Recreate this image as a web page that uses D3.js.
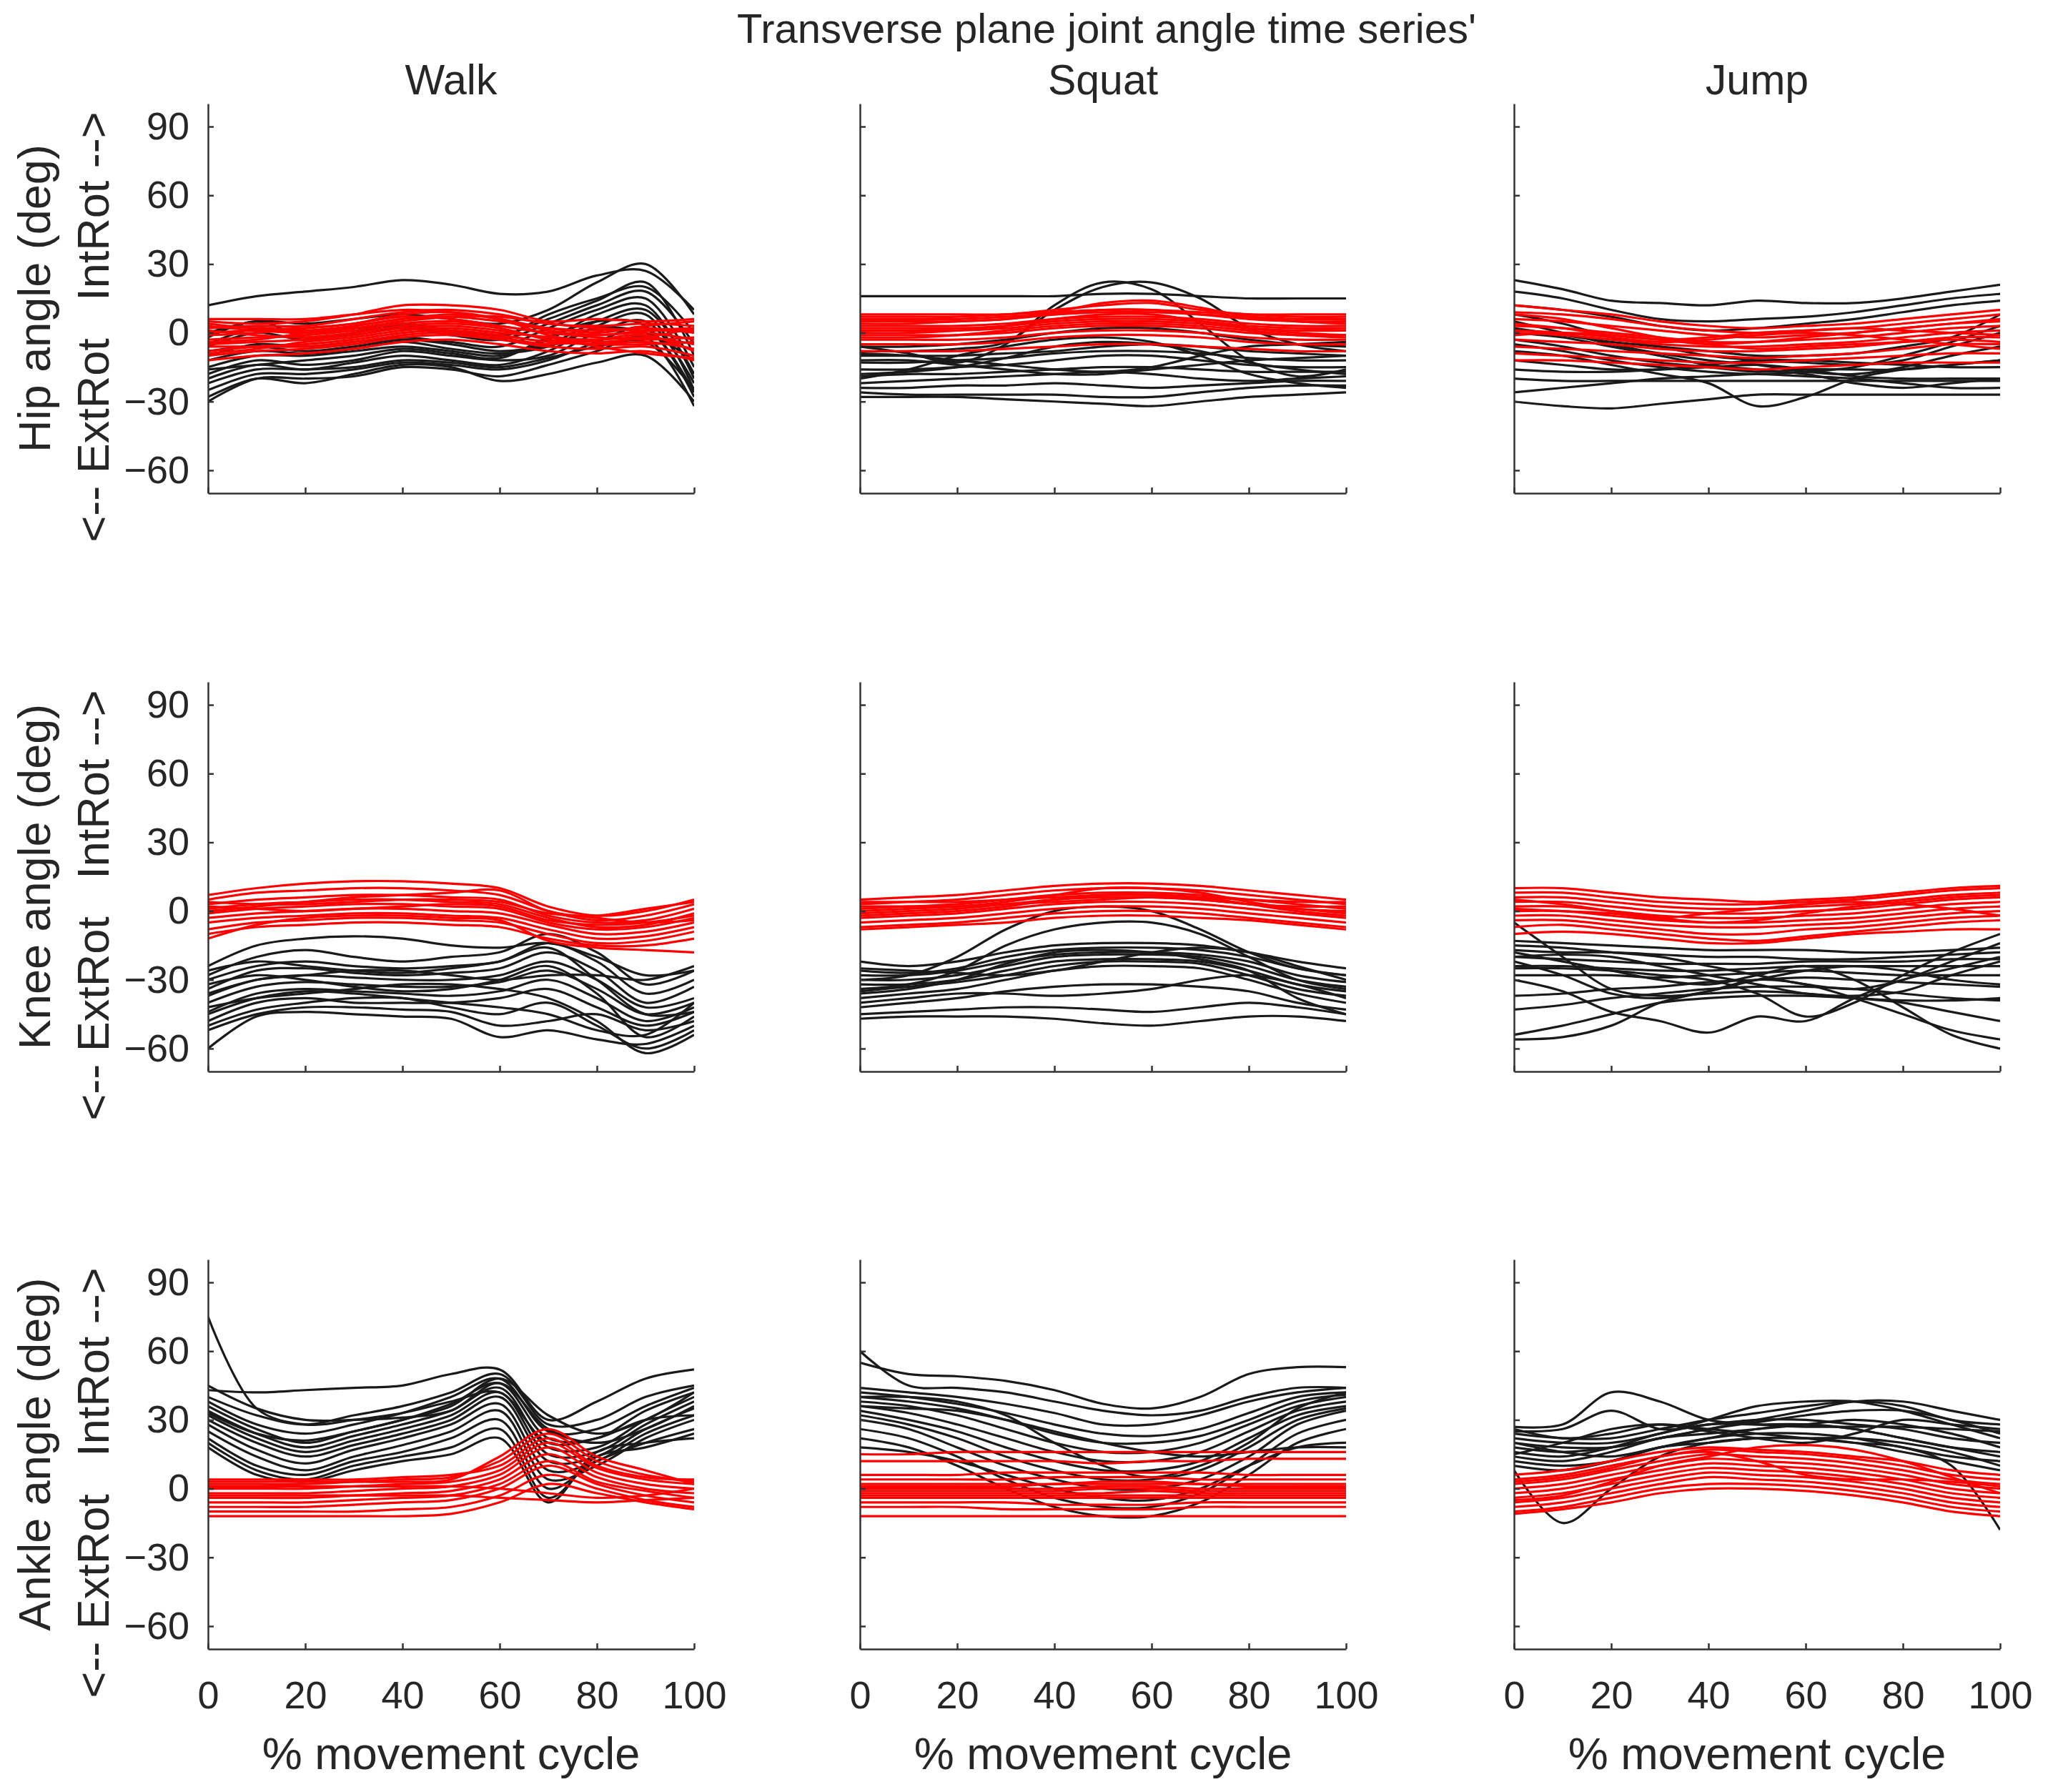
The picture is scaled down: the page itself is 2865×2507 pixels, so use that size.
<!DOCTYPE html>
<html>
<head>
<meta charset="utf-8">
<script src="https://cdn.jsdelivr.net/npm/d3@7"></script>
<style>
  body { margin: 0; background: #fff; }
  svg { display: block; }
</style>
</head>
<body>
<svg id="chart"></svg>
<script>
// sample points along the movement cycle (%)
const percentCycle = [0, 10, 20, 30, 40, 50, 60, 70, 80, 90, 100];

const mainTitle = "Transverse plane joint angle time series'";
const columnTitles = ['Walk', 'Squat', 'Jump'];
const rowLabels = ['Hip angle (deg)', 'Knee angle (deg)', 'Ankle angle (deg)'];
const directionLabel = '<-- ExtRot   IntRot -->';
const xLabel = '% movement cycle';
const yTicks = [-60, -30, 0, 30, 60, 90];
const xTicks = [0, 20, 40, 60, 80, 100];

// ---- Hip ----
const walkHipBlack = [
  [12, 16, 18, 20, 23, 21, 17, 18, 25, 27, 10],
  [0, 5, 4, 6, 8, 6, 4, 10, 22, 30, 8],
  [-5, 2, 0, 2, 3, 0, -2, 8, 15, 20, 0],
  [-10, -5, -6, -4, -2, -4, -6, 2, 10, 15, -15],
  [-15, -10, -10, -8, -6, -8, -10, -3, 8, 12, -20],
  [-20, -14, -16, -13, -10, -12, -14, -8, 3, 8, -25],
  [-25, -18, -18, -16, -13, -14, -16, -12, -4, 2, -28],
  [-30, -20, -20, -19, -15, -16, -19, -14, -8, -2, -32],
  [-18, -12, -14, -12, -8, -10, -12, -10, 0, 5, -22],
  [-8, -6, -8, -6, -3, -5, -8, -5, 5, 10, -18],
  [-22, -16, -16, -15, -12, -13, -15, -11, -6, -4, -25],
  [-12, -8, -9, -7, -4, -7, -9, -6, 2, 0, -12],
  [-28, -20, -22, -18, -14, -15, -21, -18, -13, -10, -30],
  [-2, 5, -2, -1, 2, -1, -3, 4, 12, 18, -5],
  [-16, -14, -12, -10, -7, -9, -11, -2, 5, 3, -26],
  [-6, 0, -3, 0, 4, 1, -1, 6, 14, 22, -10]
];
const walkHipRed = [
  [5, 4, 5, 8, 12, 12, 10, 5, 6, 5, 6],
  [2, 3, 3, 6, 9, 10, 8, 4, 3, 4, 3],
  [0, 1, 1, 3, 6, 7, 5, 2, 1, 2, 0],
  [-3, -2, -1, 1, 4, 5, 3, 0, -1, 0, -3],
  [-5, -4, -3, -1, 2, 3, 1, -2, -3, -2, -5],
  [-8, -6, -5, -3, 0, 1, -1, -4, -5, -4, -7],
  [-10, -8, -7, -5, -2, -1, -3, -6, -7, -6, -10],
  [-12, -10, -9, -7, -4, -3, -5, -8, -9, -8, -12],
  [6, 6, 6, 8, 10, 9, 6, 2, 0, 3, 5],
  [-1, 0, 2, 4, 7, 6, 3, 0, -2, -3, -2],
  [3, 1, 0, 2, 5, 7, 7, 4, 2, 1, 1],
  [-6, -6, -6, -4, -1, 0, -2, -5, -3, -1, -8],
  [4, 2, 2, 4, 8, 9, 6, -1, -4, -2, 2],
  [-9, -7, -4, -2, 1, 2, 0, -2, -6, -9, -11],
  [1, -1, -2, 0, 3, 4, 2, -3, -5, -5, -4],
  [-4, -3, 0, 3, 6, 8, 6, 1, -1, 1, 2]
];
const squatHipBlack = [
  [16, 16, 16, 16, 16, 17, 17, 16, 15, 15, 15],
  [-6, -9, -13, -5, 12, 22, 19, 4, -12, -19, -16],
  [-8, -8, -7, -4, 10, 20, 22, 15, 2, -5, -8],
  [-6, -6, -5, -3, 0, 2, 2, 0, -3, -5, -6],
  [-10, -10, -10, -9, -8, -6, -5, -6, -8, -9, -10],
  [-13, -13, -12, -11, -9, -8, -8, -9, -11, -12, -12],
  [-16, -16, -15, -14, -12, -10, -10, -12, -14, -15, -15],
  [-19, -18, -18, -17, -16, -15, -15, -16, -17, -17, -17],
  [-22, -21, -20, -19, -18, -17, -18, -20, -21, -20, -19],
  [-24, -24, -23, -23, -22, -23, -24, -23, -22, -21, -21],
  [-26, -27, -27, -27, -27, -28, -28, -26, -24, -23, -23],
  [-28, -28, -28, -29, -30, -31, -32, -30, -28, -27, -26],
  [-12, -12, -14, -16, -18, -18, -16, -14, -12, -11, -10],
  [-18, -17, -15, -11, -6, -4, -5, -8, -13, -16, -18],
  [-9, -10, -12, -14, -16, -17, -15, -10, -6, -5, -4],
  [-20, -16, -10, -6, -3, -2, -4, -10, -18, -22, -24]
];
const squatHipRed = [
  [7, 7, 7, 8, 10, 12, 13, 10, 8, 7, 7],
  [5, 5, 5, 6, 8, 10, 10, 8, 6, 5, 5],
  [3, 3, 3, 4, 6, 7, 7, 6, 4, 3, 3],
  [1, 1, 1, 2, 4, 5, 5, 4, 2, 1, 1],
  [-1, -1, -1, 0, 2, 3, 3, 2, 0, -1, -1],
  [-3, -3, -3, -2, 0, 1, 1, 0, -2, -3, -3],
  [-5, -5, -5, -4, -2, -1, -1, -2, -4, -5, -5],
  [0, 0, 1, 3, 6, 8, 8, 5, 2, 0, -1],
  [-2, -2, -1, 1, 3, 4, 4, 3, 1, -1, -2],
  [4, 4, 5, 6, 9, 13, 14, 11, 7, 5, 4],
  [8, 8, 8, 8, 9, 10, 10, 9, 8, 8, 8],
  [-8, -8, -8, -7, -6, -5, -5, -6, -7, -8, -8],
  [2, 2, 2, 3, 5, 6, 6, 5, 3, 2, 2],
  [6, 6, 6, 7, 8, 9, 9, 8, 7, 6, 6]
];
const jumpHipBlack = [
  [23, 19, 14, 13, 12, 14, 13, 13, 15, 18, 21],
  [18, 15, 10, 6, 5, 6, 7, 9, 12, 15, 17],
  [12, 10, 7, 3, 1, 2, 4, 6, 9, 12, 14],
  [-20, -21, -21, -21, -21, -21, -21, -21, -21, -21, -21],
  [-26, -24, -22, -20, -19, -18, -19, -20, -22, -24, -24],
  [-30, -32, -33, -31, -29, -27, -27, -27, -27, -27, -27],
  [-8, -10, -14, -18, -22, -32, -28, -20, -16, -14, -12],
  [-3, -6, -10, -13, -15, -17, -16, -16, -16, -14, -12],
  [5, 0, -5, -9, -12, -14, -17, -18, -15, -10, -6],
  [-12, -14, -16, -16, -15, -14, -16, -19, -20, -20, -20],
  [-16, -17, -17, -16, -14, -12, -12, -13, -14, -15, -15],
  [8, 4, -2, -6, -10, -12, -13, -14, -12, -6, 0],
  [-5, -8, -12, -15, -17, -18, -17, -15, -10, -4, 3],
  [0, -2, -6, -10, -14, -16, -18, -22, -24, -22, -20],
  [2, -1, -4, -6, -8, -10, -10, -9, -6, -2, 8]
];
const jumpHipRed = [
  [12, 10, 8, 5, 3, 2, 3, 4, 6, 8, 10],
  [9, 8, 6, 3, 1, 0, 1, 2, 4, 6, 8],
  [6, 5, 3, 1, -1, -2, -1, 0, 2, 4, 5],
  [3, 2, 0, -2, -4, -4, -3, -2, 0, 2, 3],
  [0, -1, -3, -5, -6, -6, -5, -4, -2, 0, 1],
  [-3, -4, -5, -7, -8, -8, -7, -6, -4, -2, -2],
  [-6, -7, -8, -9, -10, -11, -10, -9, -7, -5, -5],
  [-9, -10, -11, -12, -13, -13, -12, -11, -10, -9, -9],
  [-12, -12, -13, -14, -15, -16, -15, -14, -13, -13, -13],
  [4, 2, -1, -3, -2, 0, 1, 2, 1, 0, -1],
  [-1, 0, -1, -3, -5, -4, -2, 0, 2, 4, 6],
  [8, 6, 2, -2, -5, -7, -6, -5, -4, -3, -4],
  [1, 0, -2, -4, -3, -1, 0, -1, -3, -5, -7]
];

// ---- Knee ----
const walkKneeBlack = [
  [-24, -15, -12, -11, -12, -15, -16, -14, -20, -28, -26],
  [-28, -20, -17, -20, -22, -20, -18, -10, -18, -32, -26],
  [-30, -24, -22, -24, -25, -24, -22, -14, -22, -36, -30],
  [-34, -26, -25, -27, -28, -27, -25, -18, -26, -40, -33],
  [-37, -30, -28, -29, -30, -30, -28, -22, -30, -42, -38],
  [-40, -33, -31, -32, -33, -33, -31, -26, -34, -45, -40],
  [-44, -36, -34, -35, -36, -37, -35, -30, -38, -48, -42],
  [-48, -40, -38, -40, -40, -40, -38, -34, -42, -50, -44],
  [-52, -45, -42, -42, -43, -44, -50, -48, -45, -52, -48],
  [-60, -46, -44, -45, -46, -47, -55, -52, -56, -58, -50],
  [-50, -43, -40, -38, -38, -42, -45, -40, -50, -60, -52],
  [-26, -22, -24, -26, -27, -25, -22, -16, -30, -45, -44],
  [-32, -28, -30, -33, -35, -34, -30, -24, -36, -55, -46],
  [-42, -38, -36, -34, -32, -32, -34, -38, -48, -62, -54],
  [-36, -30, -28, -26, -26, -28, -30, -28, -28, -30, -24],
  [-45, -38, -35, -36, -38, -40, -42, -45, -52, -54, -40]
];
const walkKneeRed = [
  [7, 10, 12, 13, 13, 12, 10, 2, -2, 0, 5],
  [5, 8, 9, 10, 10, 9, 7, 0, -4, -2, 3],
  [3, 5, 6, 7, 7, 6, 5, -2, -5, -4, 1],
  [1, 3, 4, 5, 5, 4, 3, -3, -7, -6, -1],
  [-1, 1, 2, 3, 3, 2, 1, -5, -8, -7, -3],
  [-3, -1, 0, 1, 1, 0, -1, -6, -10, -9, -5],
  [-5, -3, -2, -1, -1, -2, -3, -8, -12, -11, -7],
  [-8, -5, -4, -3, -3, -4, -5, -10, -14, -13, -9],
  [-10, -7, -6, -5, -5, -6, -7, -12, -15, -15, -12],
  [-12, -6, -3, -2, -2, -3, -4, -13, -16, -17, -18],
  [0, 2, 4, 6, 7, 8, 9, 0, -3, -5, -4],
  [2, 1, 0, 1, 2, 3, 2, -4, -6, -5, -2],
  [4, 3, 3, 4, 5, 5, 4, -1, -2, 1, 4]
];
const squatKneeBlack = [
  [-22, -24, -22, -18, -15, -14, -14, -15, -18, -22, -25],
  [-26, -27, -25, -20, -17, -16, -16, -17, -20, -25, -28],
  [-28, -28, -26, -22, -19, -18, -18, -19, -22, -28, -31],
  [-30, -30, -28, -24, -20, -19, -19, -20, -24, -30, -33],
  [-32, -32, -30, -26, -22, -21, -21, -22, -26, -32, -35],
  [-35, -33, -31, -28, -24, -22, -22, -23, -28, -34, -37],
  [-38, -36, -34, -30, -26, -24, -24, -25, -30, -36, -40],
  [-42, -40, -38, -35, -33, -32, -32, -33, -35, -40, -43],
  [-45, -44, -43, -42, -42, -43, -44, -42, -40, -42, -45],
  [-47, -46, -46, -46, -47, -49, -50, -48, -46, -46, -48],
  [-30, -28, -20, -8, 0, 2, 0, -8, -18, -25, -28],
  [-34, -32, -26, -15, -8, -5, -5, -10, -20, -30, -34],
  [-25, -26, -27, -28, -26, -22, -18, -16, -18, -24, -30],
  [-40, -38, -36, -36, -37, -36, -34, -30, -28, -32, -38],
  [-36, -34, -30, -23, -18, -17, -18, -21, -26, -38, -45]
];
const squatKneeRed = [
  [5, 6, 7, 9, 11, 12, 12, 11, 9, 7, 5],
  [3, 4, 5, 7, 9, 10, 10, 9, 7, 5, 3],
  [1, 2, 3, 5, 7, 8, 8, 7, 5, 3, 1],
  [-1, 0, 1, 3, 5, 6, 6, 5, 3, 1, -1],
  [-3, -2, -1, 1, 3, 4, 4, 3, 1, -1, -3],
  [-5, -4, -3, -1, 1, 2, 2, 1, -1, -3, -5],
  [-7, -6, -5, -3, -1, 0, 0, -1, -3, -5, -7],
  [4, 4, 4, 5, 6, 7, 7, 6, 5, 4, 4],
  [0, 1, 2, 4, 7, 10, 10, 8, 4, 1, 0],
  [2, 2, 2, 3, 4, 5, 6, 5, 3, 2, 2],
  [-2, -1, 0, 2, 5, 7, 7, 6, 3, 0, -2],
  [-8, -7, -6, -5, -3, -2, -2, -3, -4, -6, -8]
];
const jumpKneeBlack = [
  [-13, -14, -15, -16, -17, -17, -17, -18, -18, -17, -16],
  [-17, -18, -18, -19, -20, -20, -21, -21, -20, -19, -18],
  [-20, -21, -22, -23, -23, -23, -22, -22, -22, -21, -21],
  [-24, -24, -25, -26, -26, -25, -24, -24, -24, -24, -24],
  [-28, -28, -28, -29, -28, -27, -26, -27, -28, -28, -28],
  [-37, -36, -34, -33, -31, -30, -29, -30, -31, -32, -33],
  [-43, -41, -38, -36, -34, -33, -33, -34, -36, -38, -39],
  [-54, -50, -45, -40, -38, -37, -37, -38, -40, -44, -48],
  [-56, -55, -50, -40, -35, -30, -32, -38, -45, -52, -56],
  [-5, -20, -34, -37, -36, -35, -36, -38, -39, -39, -38],
  [-30, -35, -44, -48, -53, -46, -48, -38, -30, -25, -20],
  [-18, -22, -26, -30, -32, -28, -24, -30, -42, -54, -60],
  [-25, -25, -26, -28, -30, -36, -46, -40, -28, -18, -10],
  [-15, -16, -18, -20, -24, -28, -32, -34, -30, -22, -14],
  [-22, -28, -36, -38, -35, -30, -26, -24, -26, -30, -32],
  [-20, -19, -20, -24, -28, -32, -36, -37, -35, -28, -22]
];
const jumpKneeRed = [
  [10, 10, 8, 6, 5, 4, 5, 6, 8, 10, 11],
  [8, 8, 6, 4, 3, 3, 4, 5, 7, 9, 10],
  [6, 6, 4, 2, 1, 1, 2, 3, 5, 7, 8],
  [4, 4, 2, 0, -1, -1, 0, 1, 3, 5, 6],
  [2, 2, 0, -2, -3, -3, -2, -1, 1, 3, 4],
  [0, 0, -2, -4, -5, -5, -4, -3, -1, 1, 2],
  [-2, -2, -4, -6, -7, -7, -6, -5, -3, -1, 0],
  [-4, -4, -6, -8, -10, -10, -8, -7, -5, -3, -2],
  [-7, -6, -8, -10, -12, -13, -11, -9, -7, -5, -4],
  [-10, -9, -10, -12, -14, -14, -12, -10, -9, -8, -8],
  [5, 3, 0, -3, -5, -4, -1, 2, 4, 6, 7],
  [1, 0, -1, -3, -1, 1, 3, 4, 3, 1, -2]
];

// ---- Ankle ----
const walkAnkleBlack = [
  [75, 35, 28, 30, 33, 38, 42, 20, 22, 30, 32],
  [43, 42, 43, 44, 45, 50, 52, 30, 38, 48, 52],
  [40, 32, 28, 32, 36, 42, 50, 28, 30, 40, 45],
  [38, 28, 24, 28, 33, 40, 48, 25, 26, 36, 44],
  [36, 26, 20, 25, 30, 37, 46, 22, 22, 34, 42],
  [34, 24, 18, 23, 28, 34, 44, 18, 18, 30, 40],
  [32, 22, 16, 21, 26, 32, 42, 15, 16, 28, 38],
  [30, 20, 14, 19, 24, 30, 40, 12, 14, 26, 35],
  [28, 17, 11, 17, 22, 28, 37, 8, 12, 24, 32],
  [25, 14, 8, 14, 19, 25, 34, 4, 10, 22, 30],
  [22, 10, 6, 12, 16, 22, 30, 0, 12, 20, 26],
  [20, 8, 4, 10, 14, 18, 26, -4, 14, 18, 24],
  [18, 6, 3, 8, 12, 15, 22, -6, 16, 20, 22],
  [33, 24, 21, 25, 30, 36, 48, 32, 24, 30, 42],
  [45, 35, 30, 30, 31, 34, 46, 26, 20, 26, 36]
];
const walkAnkleRed = [
  [4, 4, 4, 4, 5, 6, 10, 22, 10, 5, 4],
  [2, 2, 2, 3, 4, 5, 12, 24, 12, 6, 3],
  [0, 0, 0, 1, 2, 3, 8, 20, 9, 4, 2],
  [-2, -2, -2, -1, 0, 1, 6, 18, 7, 2, 0],
  [-4, -4, -4, -3, -2, -1, 4, 15, 5, 0, -2],
  [-6, -6, -6, -5, -4, -3, 2, 12, 3, -1, -4],
  [-8, -8, -8, -7, -6, -5, 0, 10, 2, -3, -6],
  [-10, -10, -10, -10, -9, -8, -3, 6, 0, -5, -8],
  [-12, -12, -12, -12, -12, -11, -6, 2, -2, -6, -9],
  [1, 1, 1, 1, 1, 1, 0, -2, -4, -3, 0],
  [-3, -3, -3, -3, -3, -3, -4, -5, -6, -5, -4],
  [3, 3, 3, 3, 3, 4, 14, 26, 14, 8, 2]
];
const squatAnkleBlack = [
  [55, 50, 49, 47, 43, 37, 35, 40, 50, 53, 53],
  [44, 42, 40, 37, 33, 28, 28, 32, 38, 42, 44],
  [42, 40, 37, 33, 28, 24, 23, 26, 33, 40, 42],
  [40, 38, 35, 30, 24, 20, 20, 23, 30, 38, 41],
  [38, 36, 32, 26, 20, 16, 16, 20, 28, 36, 40],
  [36, 33, 28, 22, 16, 12, 12, 16, 25, 34, 38],
  [34, 30, 25, 18, 12, 8, 8, 12, 22, 32, 36],
  [32, 28, 22, 14, 8, 4, 4, 8, 18, 30, 35],
  [30, 26, 18, 10, 4, 0, 0, 4, 14, 28, 34],
  [26, 22, 14, 4, -4, -8, -8, -2, 10, 24, 30],
  [22, 18, 10, 0, -8, -12, -12, -6, 6, 20, 26],
  [18, 16, 12, 6, 0, -4, -5, 0, 10, 18, 20],
  [40, 40, 38, 32, 20, 10, 5, 10, 20, 35, 42],
  [36, 35, 34, 30, 25, 20, 16, 14, 16, 18, 18],
  [60, 45, 44, 42, 38, 34, 32, 34, 40, 44, 44]
];
const squatAnkleRed = [
  [15, 15, 16, 16, 16, 16, 16, 16, 16, 16, 16],
  [12, 12, 12, 12, 12, 11, 12, 12, 13, 13, 13],
  [4, 4, 4, 4, 5, 5, 5, 4, 4, 4, 4],
  [2, 2, 2, 2, 2, 3, 3, 2, 2, 2, 2],
  [0, 0, 0, 0, 0, 1, 1, 0, 0, 0, 0],
  [-2, -2, -2, -2, -2, -2, -1, -2, -2, -2, -2],
  [-4, -4, -4, -4, -4, -4, -4, -4, -4, -4, -4],
  [-6, -6, -6, -6, -7, -7, -7, -6, -6, -6, -6],
  [-12, -12, -12, -12, -12, -12, -12, -12, -12, -12, -12],
  [6, 6, 6, 7, 7, 7, 7, 7, 6, 6, 6],
  [-8, -8, -8, -9, -9, -9, -9, -8, -8, -8, -8],
  [1, 1, 1, 1, 2, 2, 2, 2, 1, 1, 1],
  [-1, -1, -1, -1, -1, 0, 0, -1, -1, -1, -1],
  [-3, -3, -3, -3, -3, -3, -3, -3, -3, -3, -3]
];
const jumpAnkleBlack = [
  [27, 28, 42, 38, 30, 28, 27, 27, 27, 26, 25],
  [25, 26, 34, 26, 28, 30, 30, 28, 26, 22, 20],
  [24, 22, 22, 26, 30, 33, 36, 38, 36, 30, 28],
  [22, 20, 20, 24, 30, 36, 38, 38, 34, 28, 22],
  [20, 18, 18, 22, 26, 30, 34, 38, 38, 34, 30],
  [18, 16, 18, 22, 26, 29, 32, 34, 34, 30, 24],
  [16, 14, 18, 24, 28, 28, 28, 26, 22, 18, 16],
  [14, 12, 16, 22, 24, 26, 28, 30, 28, 24, 18],
  [12, 10, 12, 18, 22, 24, 24, 22, 18, 14, 12],
  [10, 8, 12, 18, 20, 22, 22, 22, 20, 16, 10],
  [8, -15, 0, 14, 20, 22, 22, 20, 16, 12, 8],
  [26, 22, 24, 28, 26, 24, 22, 20, 18, 10, -18],
  [15, 20, 26, 28, 25, 22, 20, 24, 30, 28, 26],
  [20, 16, 14, 18, 22, 26, 28, 26, 22, 18, 14]
];
const jumpAnkleRed = [
  [6, 8, 12, 16, 18, 17, 16, 14, 12, 8, 6],
  [4, 6, 10, 14, 17, 16, 15, 13, 10, 6, 4],
  [2, 4, 8, 12, 15, 14, 13, 11, 8, 4, 2],
  [0, 2, 6, 10, 13, 12, 11, 9, 6, 2, 0],
  [-2, 0, 4, 8, 11, 10, 9, 7, 4, 0, -2],
  [-4, -2, 2, 6, 9, 8, 7, 5, 2, -2, -4],
  [-6, -4, 0, 4, 7, 6, 5, 3, 0, -4, -6],
  [-8, -6, -2, 2, 5, 4, 3, 1, -2, -6, -8],
  [-10, -8, -4, 0, 2, 2, 1, -1, -4, -8, -10],
  [-11, -9, -6, -2, 0, 0, -1, -3, -6, -10, -12],
  [3, 5, 9, 14, 16, 12, 6, 4, 4, 3, 1],
  [-5, -3, 3, 10, 14, 18, 19, 17, 12, 5, -2]
];

// panels in row order (hip, knee, ankle) x column order (walk, squat, jump)
const panelData = [
  [[walkHipBlack, walkHipRed], [squatHipBlack, squatHipRed], [jumpHipBlack, jumpHipRed]],
  [[walkKneeBlack, walkKneeRed], [squatKneeBlack, squatKneeRed], [jumpKneeBlack, jumpKneeRed]],
  [[walkAnkleBlack, walkAnkleRed], [squatAnkleBlack, squatAnkleRed], [jumpAnkleBlack, jumpAnkleRed]]
];

const W = 2865, H = 2507;
const colLeft = [291, 1203, 2118];
const rowTop = [145, 954, 1762];
const panelW = 680, panelH = 545;
const textColor = '#262626';
const font = '"Liberation Sans", Arial, sans-serif';

const svg = d3.select('#chart').attr('width', W).attr('height', H)
  .style('font-family', font);

svg.append('rect').attr('width', W).attr('height', H).attr('fill', '#fff');

// overall title
svg.append('text')
  .attr('x', 1548).attr('y', 60)
  .attr('text-anchor', 'middle')
  .attr('font-size', 58)
  .attr('fill', textColor)
  .text(mainTitle);

function drawPanel(row, col) {
  const left = colLeft[col], top = rowTop[row];
  const x = d3.scaleLinear().domain([0, 100]).range([left, left + panelW]);
  const y = d3.scaleLinear().domain([-70, 100]).range([top + panelH, top]);

  const line = d3.line()
    .x((d, i) => x(percentCycle[i]))
    .y(d => y(d))
    .curve(d3.curveCatmullRom.alpha(0.5));

  const [blackLines, redLines] = panelData[row][col];
  const g = svg.append('g');

  // clip so the curves stay inside the axes box
  const clipId = 'clip-' + row + '-' + col;
  svg.append('clipPath').attr('id', clipId)
    .append('rect').attr('x', left).attr('y', top).attr('width', panelW).attr('height', panelH);
  const lines = g.append('g').attr('clip-path', 'url(#' + clipId + ')');

  lines.selectAll('path.black')
    .data(blackLines)
    .enter().append('path')
    .attr('class', 'black')
    .attr('d', line)
    .attr('fill', 'none')
    .attr('stroke', '#1a1a1a')
    .attr('stroke-width', 3.2);

  lines.selectAll('path.red')
    .data(redLines)
    .enter().append('path')
    .attr('class', 'red')
    .attr('d', line)
    .attr('fill', 'none')
    .attr('stroke', '#ff0000')
    .attr('stroke-width', 3.2);

  // y axis, ticks pointing inward
  const yAxis = d3.axisLeft(y).tickValues(yTicks)
    .tickSizeInner(-8).tickSizeOuter(0).tickPadding(26)
    .tickFormat(col === 0 ? d3.format('d') : () => '');
  const ya = g.append('g').attr('transform', 'translate(' + left + ',0)').call(yAxis);

  // x axis along the bottom
  const xAxis = d3.axisBottom(x).tickValues(xTicks)
    .tickSizeInner(-8).tickSizeOuter(0).tickPadding(45)
    .tickFormat(row === 2 ? d3.format('d') : () => '');
  const xa = g.append('g').attr('transform', 'translate(0,' + (top + panelH) + ')').call(xAxis);

  [ya, xa].forEach(a => {
    a.attr('font-family', font).attr('font-size', 54);
    a.select('.domain').attr('stroke', '#333').attr('stroke-width', 2.5);
    a.selectAll('.tick line').attr('stroke', '#333').attr('stroke-width', 2.5);
    a.selectAll('.tick text').attr('fill', textColor);
  });

  if (row === 0) { // column titles
    svg.append('text')
      .attr('x', left + panelW / 2).attr('y', 132)
      .attr('text-anchor', 'middle')
      .attr('font-size', 59)
      .attr('fill', textColor)
      .text(columnTitles[col]);
  }
  if (row === 2) { // x label
    svg.append('text')
      .attr('x', left + panelW / 2).attr('y', 2475)
      .attr('text-anchor', 'middle')
      .attr('font-size', 63)
      .attr('fill', textColor)
      .text(xLabel);
  }
  if (col === 0) { // two-line y label
    const cy = top + panelH / 2;
    svg.append('text')
      .attr('transform', 'translate(70,' + cy + ') rotate(-90)')
      .attr('text-anchor', 'middle')
      .attr('font-size', 63)
      .attr('fill', textColor)
      .text(rowLabels[row]);
    svg.append('text')
      .attr('transform', 'translate(152,' + (cy + 40) + ') rotate(-90)')
      .attr('text-anchor', 'middle')
      .attr('font-size', 63)
      .attr('fill', textColor)
      .style('white-space', 'pre')
      .text(directionLabel);
  }
}

for (let r = 0; r < 3; r++) {
  for (let c = 0; c < 3; c++) {
    drawPanel(r, c);
  }
}
</script>
</body>
</html>
